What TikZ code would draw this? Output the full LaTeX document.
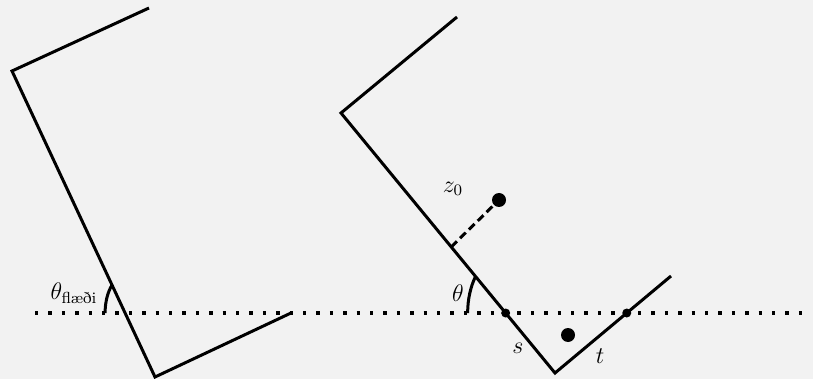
\documentclass[tikz,border=0pt]{standalone}
\usepackage{amsmath}
\usetikzlibrary{calc}
\definecolor{bggray}{HTML}{F2F2F2}

\begin{document}
\begin{tikzpicture}[x=0.5pt, y=-0.5pt, line width=1.5pt, font=\large,
    smalldot/.style={circle, fill, inner sep=0pt, minimum size=4.5pt},
    bigdot/.style={circle, fill, inner sep=0pt, minimum size=7pt}]
    \fill[bggray] (0,0) rectangle (813,379);
    \useasboundingbox (0,0) rectangle (813,379);

    \coordinate (hL) at (35,313); \coordinate (hR) at (810,313);
    \draw[line width=1.7pt, dash pattern=on 1.7pt off 5pt] (hL) -- (hR);

    % left wedge
    \coordinate (A1) at (149,8); \coordinate (B1) at (12,71);
    \coordinate (C1) at (155,377); \coordinate (D1) at (291,313);
    \draw (A1) -- (B1) -- (C1) -- (D1);
    \coordinate (P1) at (intersection of B1--C1 and hL--hR);
    \draw ($(P1)+(-20,0)$) arc[start angle=180, end angle=229.2, x radius=20, y radius=37];
    \node (thf) at (74,293) {\(\theta_{\text{flæði}}\)};

    % right wedge
    \coordinate (A2) at (457,17); \coordinate (B2) at (341,113);
    \coordinate (C2) at (555,373); \coordinate (D2) at (671,276);
    \draw (A2) -- (B2) -- (C2) -- (D2);
    \coordinate (S) at (intersection of B2--C2 and hL--hR);
    \coordinate (T) at (intersection of C2--D2 and hL--hR);
    \draw ($(S)+(-38,0)$) arc[start angle=180, end angle=217.5, x radius=38, y radius=60];
    \node (th) at (458,293) {\(\theta\)};

    \coordinate (F) at ($(B2)!0.515!(C2)$);
    \node[bigdot] (z0) at (499,200) {};
    \draw[dash pattern=on 4pt off 2.2pt] (F) -- (z0);
    \node (z0lab) at (453,189) {\(z_0\)};

    \node[smalldot] (s0) at (S) {};
    \node[smalldot] (t0) at (T) {};
    \node[bigdot] (q) at (568,335) {};
    \node (slab) at (518,348) {\(s\)};
    \node (tlab) at (600,356) {\(t\)};
\end{tikzpicture}
\end{document}
